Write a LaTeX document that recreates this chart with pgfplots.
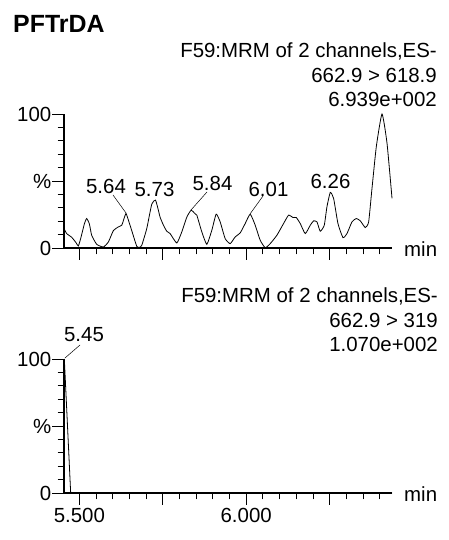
\documentclass[border=0pt]{standalone}
\usepackage{fontspec}
\setmainfont{Liberation Sans}
\usepackage{pgfplots}
\pgfplotsset{compat=1.18}
\pgfplotsset{
  chrom/.style={
    scale only axis, width=328bp, height=134bp,
    xmin=5.454, xmax=6.437, ymin=0, ymax=100,
    axis lines*=left,
    axis line style={line width=1.1pt},
    tick style={black, line width=0.8pt},
    tick align=outside,
    major tick length=12bp, minor tick length=6.5bp,
    xtick={5.5,5.75,6,6.25},
    minor xtick={5.55,5.6,5.65,5.7,5.8,5.85,5.9,5.95,6.05,6.1,6.15,6.2,6.3,6.35,6.4},
    ytick={0,50,100}, yticklabels={0,\%,100},
    minor ytick={10,20,30,40,60,70,80,90},
    clip=false,
    tick label style={font=\fontsize{20.5}{24}\selectfont},
    yticklabel style={inner xsep=0.5bp},
    /pgf/number format/assume math mode=true,
  }
}
\begin{document}
\begin{tikzpicture}[x=1bp,y=1bp]
\useasboundingbox (0,0) rectangle (449,540);
\begin{axis}[chrom, at={(64bp,292bp)}, anchor=south west, xticklabels={}]
\addplot[black, line width=0.8pt, smooth, tension=0.3] coordinates {
(5.454,14.5) (5.462,10.75) (5.477,8) (5.490,4) (5.497,1.5) (5.505,8) (5.515,18)
(5.522,22) (5.530,18) (5.537,9.5) (5.552,2.75) (5.572,0.75) (5.587,4.5)
(5.602,13) (5.617,15.75) (5.627,17) (5.634,22) (5.640,25.75) (5.648,20)
(5.657,13) (5.672,1.25) (5.680,0.5) (5.687,2) (5.702,14.5) (5.717,32.75)
(5.728,35.75) (5.735,30) (5.742,23) (5.752,17) (5.762,12.5) (5.772,10.75)
(5.792,3.75) (5.807,12) (5.822,23) (5.835,28.25) (5.845,26) (5.852,24.5)
(5.867,12) (5.882,2.75) (5.897,13.25) (5.910,25.25) (5.922,19.5) (5.937,7)
(5.952,3.25) (5.967,8.25) (5.982,11.25) (5.997,18.25) (6.012,25.25) (6.027,17)
(6.042,5.75) (6.057,0.25) (6.072,3.25) (6.092,9.5) (6.112,18.25) (6.127,24.5)
(6.140,22.75) (6.150,22.75) (6.162,18.25) (6.177,10.75) (6.192,17) (6.202,20.25)
(6.212,19.5) (6.222,12.5) (6.234,17) (6.242,30.75) (6.252,41.5) (6.262,37)
(6.275,18.25) (6.290,7.75) (6.302,10.75) (6.317,19.5) (6.330,22) (6.342,20.25)
(6.357,15.25) (6.367,19.5) (6.377,44.5) (6.390,75.75) (6.407,100) (6.422,78.25)
(6.437,37)
};
\end{axis}
\begin{axis}[chrom, at={(64bp,47bp)}, anchor=south west, xticklabels={5.500,,6.000,}]
\addplot[black, line width=0.8pt] coordinates {
(5.455,100) (5.474,0) (6.437,0)
};
\end{axis}
% texts
\node[anchor=base west, inner sep=0pt, font=\fontsize{25}{29}\selectfont\bfseries] at (13,507) {PFTrDA};
\begin{scope}[every node/.style={inner sep=0pt, font=\fontsize{20.5}{24}\selectfont}]
\node[anchor=base east] at (437,482) {F59:MRM of 2 channels,ES-};
\node[anchor=base east] at (437,457) {662.9 > 618.9};
\node[anchor=base east] at (437,433) {6.939e+002};
\node[anchor=base east] at (438,237) {F59:MRM of 2 channels,ES-};
\node[anchor=base east] at (438,212) {662.9 > 319};
\node[anchor=base east] at (438,188) {1.070e+002};
\node[anchor=base west] at (404,283) {min};
\node[anchor=base west] at (404,38) {min};
\node[anchor=base] at (106,346) {5.64};
\node[anchor=base] at (154.5,343) {5.73};
\node[anchor=base] at (212.5,349) {5.84};
\node[anchor=base] at (268.5,343) {6.01};
\node[anchor=base] at (330.5,351) {6.26};
\node[anchor=base] at (84,198) {5.45};
\end{scope}
\draw[line width=0.5pt] (113,345) -- (126,327);
\draw[line width=0.5pt] (207,348) -- (191,330);
\draw[line width=0.5pt] (263,344) -- (250,326);
\draw[line width=0.5pt] (80,195) -- (65,182);
\end{tikzpicture}
\end{document}
